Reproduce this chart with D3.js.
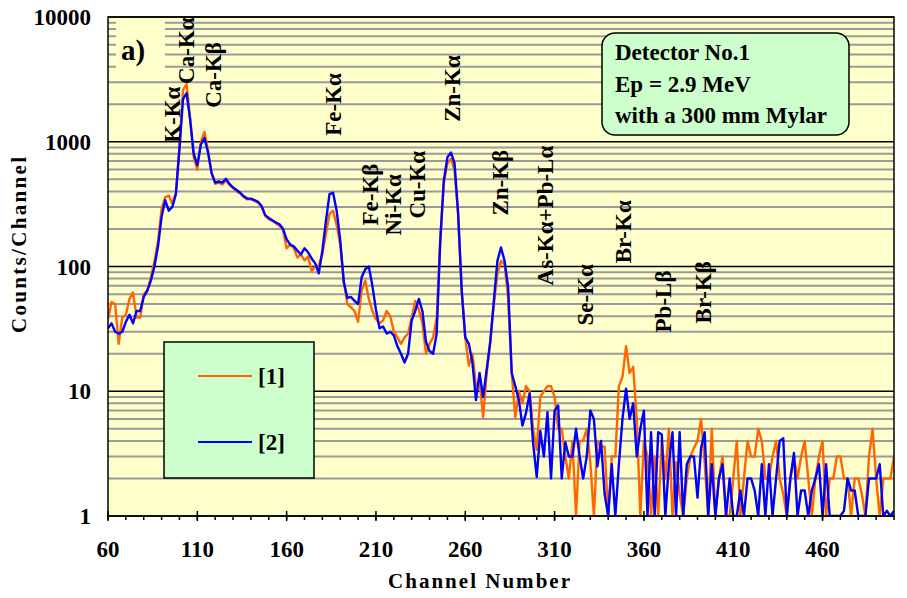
<!DOCTYPE html>
<html><head><meta charset="utf-8">
<script src="https://cdn.jsdelivr.net/npm/d3@7"></script>
<style>body{margin:0;background:#fff}svg text{font-family:"Liberation Serif","Times New Roman",serif;font-weight:bold;fill:#000}</style>
</head><body><svg id="chart" width="907" height="598"></svg>
<script>
// ---- data ----
const startChannel = 60, channelStep = 2;
const series1 = [ // [1] orange
 38,52,50,24,39,41,55,62,39,39,
 60,64,82,110,160,290,360,370,320,390,
 900,2600,2900,1500,750,600,1000,1200,850,560,
 460,470,455,490,450,425,400,385,360,345,
 345,335,325,300,255,240,232,222,212,195,
 140,150,140,118,125,112,120,92,100,102,
 125,183,265,280,215,150,75,50,47,44,
 36,64,77,55,44,38,35,37,44,40,
 30,27,24,27,29,39,53,45,35,20,
 24,27,39,160,470,670,730,590,265,64,
 27,16,20,11,12,6.2,14,25,50,88,
 111,104,56,14,6.2,10,8,11,10,4.9,
 3.4,9,10,11,11,9,5,5,3,2,
 4,1,4,4,5,2.7,1,4,3.6,3.6,
 1,3,3,11,13,23,14,15.7,6,1,
 4,3,1,3,1,4,2,5,1,2.7,
 1.5,1,2,3,3.5,4,6,2.7,1,5,
 1,2,3,1,1,2,4,1,2,4,
 3,3,5,4,2,2,3,4,2,1.5,
 1,2,3,2,3,4,2,1,2,3,
 4,1,2,2,3,3,2,2,1,2,
 2,1.5,1,3,5,2,1,2,2,2,
 3];
const series2 = [ // [2] blue
 32,35,30,29,30,36,41,35,44,44,
 57,64,77,100,145,250,340,280,300,380,
 880,2200,2450,1500,800,650,950,1070,820,560,
 470,480,470,505,460,430,410,390,365,350,
 350,340,330,305,258,245,235,225,218,200,
 165,150,145,134,125,140,130,116,106,88,
 134,232,380,390,280,162,75,56,57,53,
 50,82,95,100,70,45,32,33,29,30,
 28,23,20,17,20,37,44,55,44,25,
 21,20,29,162,490,750,820,670,265,64,
 27,24,17,8.5,14,9,15,25,53,111,
 142,111,68,14,11,8.5,5.3,6.7,9.6,3.8,
 2.05,4.8,3,6.8,2,7,7.7,2,3.9,3,
 3,5,3,2,3,7,6,2.5,4,1.5,
 1,2.6,1,2.6,6,10.5,6,8,3,5,
 7,1,4.7,1,4.7,4.5,1,2.6,4.7,1,
 4.7,1,2.6,3,3,1.4,3.5,4.7,1,2.6,
 1,2,2.6,1,2,1,1,1.6,1,2,
 2,1.6,1,2.6,1,2.6,1,2,4,4.2,
 1,2,3.2,1,1.6,1.6,1,1.6,2,2.6,
 1,2.6,1,1,1,1,1.1,2,1.6,1.6,
 1,1,1,2,2,2,2.6,1,1.1,1,
 1.1];
const seriesNames = ["[1]", "[2]"];
const seriesColors = ["#FF6600", "#0000FF"];
const xTickValues = [60,110,160,210,260,310,360,410,460];
const yTickValues = [1,10,100,1000,10000];
const peakLabels   = ["K-K\u03B1","Ca-K\u03B1","Ca-K\u03B2","Fe-K\u03B1","Zn-K\u03B1","Fe-K\u03B2","Ni-K\u03B1","Cu-K\u03B1","Zn-K\u03B2","As-K\u03B1+Pb-L\u03B1","Se-K\u03B1","Br-K\u03B1","Pb-L\u03B2","Br-K\u03B2"];
const peakChannels = [95.9,103.7,118.8,186,252.7,206.8,219.7,233.1,279.6,304.8,327.2,348.5,370.4,393.3];
const peakAnchors  = [980,2910,1870,1117,1445,213,177,242,256,70.5,33.7,106,29.6,35];
const infoLines = ["Detector No.1","Ep = 2.9 MeV","with a 300 mm Mylar"];
const panelLabel = "a)";
const xTitle = "Channel Number", yTitle = "Counts/Channel";

// ---- layout ----
const L = 108, R = 894, T = 17, B = 516;
const svg = d3.select("#chart");
const x = d3.scaleLinear().domain([60, 500]).range([L, R]);
const y = d3.scaleLog().domain([1, 10000]).range([B, T]);
const channels = series1.map((_, i) => startChannel + i * channelStep);

svg.append("rect").attr("x", L).attr("y", T).attr("width", R - L).attr("height", B - T).attr("fill", "#FFFFCC");

// gridlines
const minor = [];
[1,10,100,1000].forEach(d => { for (let m = 2; m <= 9; m++) minor.push(d * m); });
svg.append("g").selectAll("line").data(minor).join("line")
  .attr("x1", L).attr("x2", R).attr("y1", d => y(d)).attr("y2", d => y(d))
  .attr("stroke", "#9a9a9a").attr("stroke-width", 2);
svg.append("g").selectAll("line").data(yTickValues).join("line")
  .attr("x1", L).attr("x2", R).attr("y1", d => y(d)).attr("y2", d => y(d))
  .attr("stroke", "#000").attr("stroke-width", 1.5);

// panel label box
svg.append("rect").attr("x", 116).attr("y", T + 1).attr("width", 49).attr("height", 52).attr("fill", "#FFFFCC");
svg.append("text").attr("x", 121).attr("y", 60).attr("font-size", 29).text(panelLabel);

// lines
svg.append("clipPath").attr("id", "clip").append("rect")
  .attr("x", L).attr("y", T).attr("width", R - L).attr("height", B - T);
const line = d3.line().x(d => x(d[0])).y(d => y(Math.max(1, d[1])));
[series1, series2].forEach((s, k) => {
  svg.append("path").datum(channels.map((c, i) => [c, s[i]]))
    .attr("clip-path", "url(#clip)")
    .attr("d", line).attr("fill", "none").attr("stroke", seriesColors[k])
    .attr("stroke-width", 2.4).attr("stroke-linejoin", "round");
});

// peak labels
svg.append("g").selectAll("text").data(peakLabels).join("text")
  .attr("transform", (d, i) => `translate(${x(peakChannels[i])},${y(peakAnchors[i])}) rotate(-90)`)
  .attr("dy", "0.35em").attr("font-size", 23).text(d => d);

// frame
svg.append("rect").attr("x", L).attr("y", T).attr("width", R - L).attr("height", B - T)
  .attr("fill", "none").attr("stroke", "#000").attr("stroke-width", 1.5);

// axes
const minorX = d3.range(60, 501, 10);
svg.append("g").selectAll("line").data(minorX).join("line")
  .attr("x1", d => x(d)).attr("x2", d => x(d)).attr("y1", B).attr("y2", B + 4)
  .attr("stroke", "#000").attr("stroke-width", 1.5);
svg.append("g").selectAll("line").data(xTickValues).join("line")
  .attr("x1", d => x(d)).attr("x2", d => x(d)).attr("y1", B - 5).attr("y2", B + 5)
  .attr("stroke", "#000").attr("stroke-width", 1.5);
svg.append("g").selectAll("text").data(xTickValues).join("text")
  .attr("x", d => x(d)).attr("y", 549).attr("dy", "0.35em").attr("text-anchor", "middle")
  .attr("font-size", 23).text(d => d);
svg.append("g").selectAll("text").data(yTickValues).join("text")
  .attr("x", 91).attr("y", d => y(d)).attr("dy", "0.35em").attr("text-anchor", "end")
  .attr("font-size", 23).text(d => d);

svg.append("text").attr("x", 479).attr("y", 588).attr("text-anchor", "middle")
  .attr("font-size", 21).attr("textLength", 182).attr("lengthAdjust", "spacing").text(xTitle);
svg.append("text").attr("transform", "translate(19,245) rotate(-90)").attr("dy", "0.35em")
  .attr("text-anchor", "middle").attr("font-size", 21).attr("textLength", 176).attr("lengthAdjust", "spacing").text(yTitle);

// legend
svg.append("rect").attr("x", 164).attr("y", 342).attr("width", 150).attr("height", 136)
  .attr("fill", "#CCFFCC").attr("stroke", "#000").attr("stroke-width", 1.5);
const legY = [376, 442];
seriesNames.forEach((n, k) => {
  svg.append("line").attr("x1", 198).attr("x2", 252).attr("y1", legY[k]).attr("y2", legY[k])
    .attr("stroke", seriesColors[k]).attr("stroke-width", 2);
  svg.append("text").attr("x", 258).attr("y", legY[k]).attr("dy", "0.35em").attr("font-size", 23).text(n);
});

// info box
svg.append("rect").attr("x", 602).attr("y", 33).attr("width", 247).attr("height", 102).attr("rx", 13)
  .attr("fill", "#CCFFCC").attr("stroke", "#000").attr("stroke-width", 1.5);
svg.append("g").selectAll("text").data(infoLines).join("text")
  .attr("x", 615).attr("y", (d, i) => 60 + i * 31.5).attr("font-size", 23).text(d => d);
</script></body></html>
